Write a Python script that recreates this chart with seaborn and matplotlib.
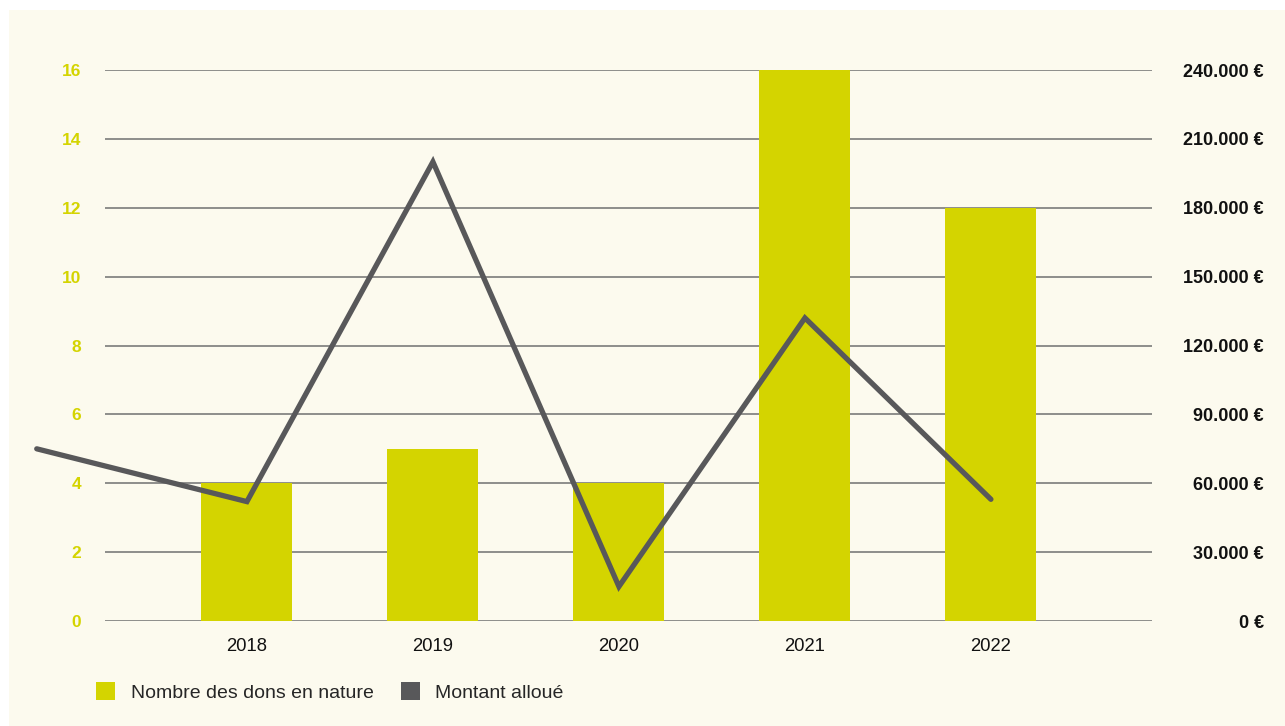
import numpy as np
import pandas as pd
import matplotlib
matplotlib.use('Agg')
import matplotlib.pyplot as plt
from matplotlib.patches import Rectangle, Patch
import seaborn as sns

### data ############################################
years = ['2018', '2019', '2020', '2021', '2022']
dons = [4, 5, 4, 16, 12]                       # Nombre des dons en nature
montant = [75000, 52000, 200000, 15000, 132000, 53000]   # Montant alloué (first value = lead-in before 2018)
montant_x = [-1.13, 0, 1, 2, 3, 4]
left_ticks = [0, 2, 4, 6, 8, 10, 12, 14, 16]
right_ticks = [0, 30000, 60000, 90000, 120000, 150000, 180000, 210000, 240000]

BAR = '#D4D400'
LINE = '#58585A'
BG = '#FCFAEE'
GRID = '#707070'

sns.set_theme(style='white')
plt.rcParams['font.family'] = ['Liberation Sans', 'DejaVu Sans']

fig = plt.figure(figsize=(12.85, 7.26), dpi=100, facecolor='white')
fig.patches.append(Rectangle((9/1285, 0), 1, (726-10)/726, transform=fig.transFigure,
                             facecolor=BG, edgecolor='none', zorder=-10))
ax = fig.add_axes([105/1285, 1-621/726, (1152-105)/1285, (621-70)/726])
ax.set_facecolor('none')

df = pd.DataFrame({'annee': years, 'dons': dons})
sns.barplot(data=df, x='annee', y='dons', color=BAR, saturation=1, width=0.49, ax=ax,
            zorder=2, edgecolor='none', linewidth=0)
for p in ax.patches:
    p.set_clip_on(False)

ax.set_xlim(-0.763, 4.866)
ax.set_ylim(0, 16)
ax.set_yticks(left_ticks)
ax.set_yticklabels([str(t) for t in left_ticks], color=BAR, fontweight='bold', fontsize=12.5)
ax.yaxis.grid(True, color=GRID, lw=1.1)
ax.set_axisbelow(True)
ax.tick_params(axis='y', length=0, pad=17)
ax.tick_params(axis='x', length=0, pad=12, labelsize=13.3, labelcolor='#111111')
ax.set_xlabel('')
ax.set_ylabel('')
for s in ax.spines.values():
    s.set_visible(False)

# montant on secondary axis
ax2 = ax.twinx()
ld = pd.DataFrame({'x': montant_x, 'montant': montant})
sns.lineplot(data=ld, x='x', y='montant', color=LINE, lw=3.8, ax=ax2, clip_on=False)
for ln in ax2.lines:
    ln.set_solid_joinstyle('miter')
ax2.set_xlim(-0.763, 4.866)
ax2.set_ylim(0, 240000)
ax2.set_yticks(right_ticks)
ax2.set_yticklabels([f'{t:,} €'.replace(',', '.') for t in right_ticks],
                    fontweight='bold', fontsize=13, color='#111111', ha='right')
ax2.tick_params(axis='y', length=0, pad=80.5)
ax2.set_xlabel('')
ax2.set_ylabel('')
for s in ax2.spines.values():
    s.set_visible(False)

handles = [Patch(facecolor=BAR, edgecolor='none', label='Nombre des dons en nature'),
           Patch(facecolor=LINE, edgecolor='none', label='Montant alloué')]
fig.legend(handles=handles, loc='center left', bbox_to_anchor=(96/1285, 1-692/726), ncol=2,
           frameon=False, fontsize=14, handlelength=1.0, handleheight=1.0,
           handletextpad=0.78, columnspacing=1.4, borderpad=0, borderaxespad=0)

fig.savefig('out.png', dpi=100, facecolor='white')
